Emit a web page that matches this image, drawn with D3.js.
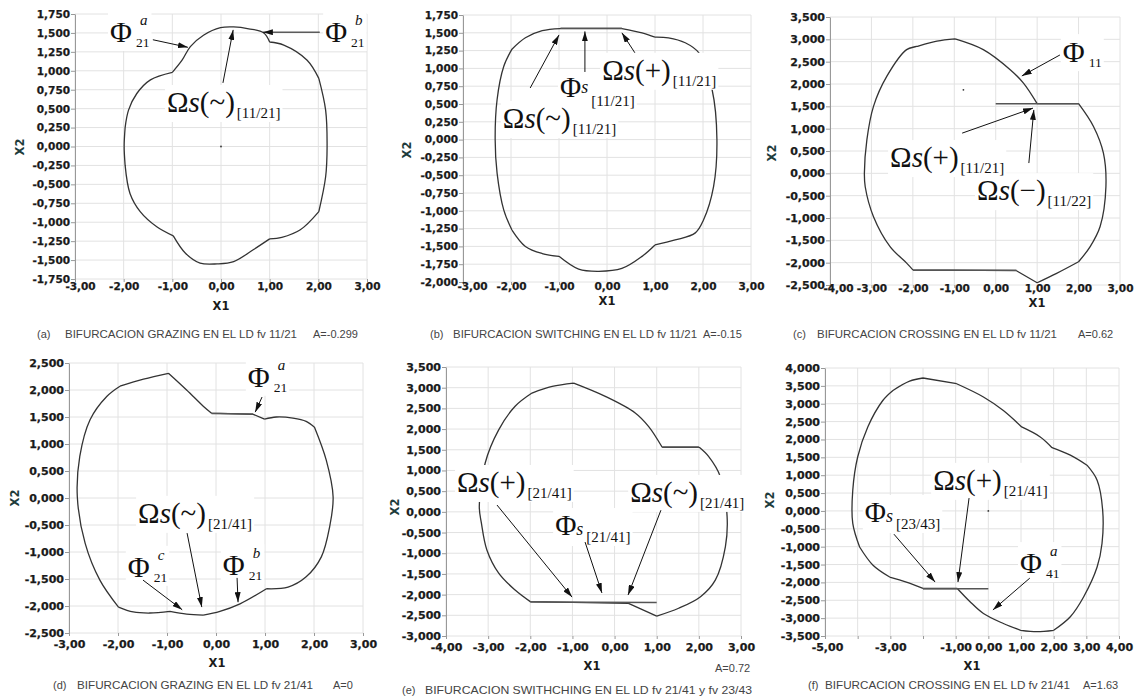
<!DOCTYPE html>
<html><head><meta charset="utf-8">
<script src="https://cdn.jsdelivr.net/npm/d3@7"></script>
<style>
body{margin:0;background:#fff}
svg{display:block}
</style></head><body>
<svg id="fig" width="1135" height="696"></svg>
<script>
// ---- orbits (x1, x2) ----
const orbitA = [[0.26,1.58],[0.57,1.555],[0.88,1.50],[1.0,1.38],[1.29,1.34],[1.77,1.14],[2.01,0.90],[2.15,0.48],[2.18,0],[2.15,-0.40],[2.01,-0.86],[1.63,-1.10],[1.25,-1.20],[1.0,-1.22],[0.67,-1.36],[0.26,-1.52],[-0.08,-1.55],[-0.43,-1.54],[-0.73,-1.41],[-0.98,-1.18],[-1.32,-1.06],[-1.66,-0.86],[-1.87,-0.62],[-1.97,-0.25],[-1.99,0],[-1.97,0.25],[-1.90,0.48],[-1.73,0.70],[-1.45,0.88],[-1.0,0.98],[-0.80,1.14],[-0.63,1.32],[-0.36,1.47],[-0.01,1.57]]
const orbitB = [[-0.97,1.56],[0.31,1.56],[0.73,1.50],[1.0,1.44],[1.28,1.43],[1.63,1.36],[1.91,1.22],[2.19,0.70],[2.29,0],[2.22,-0.66],[2.01,-1.13],[1.84,-1.31],[1.42,-1.41],[1.0,-1.48],[0.73,-1.64],[0.31,-1.81],[-0.17,-1.85],[-0.59,-1.82],[-1.0,-1.64],[-1.35,-1.60],[-1.70,-1.50],[-1.98,-1.27],[-2.15,-0.99],[-2.29,-0.47],[-2.33,0],[-2.29,0.56],[-2.15,1.03],[-1.98,1.27],[-1.70,1.43],[-1.35,1.53]]
const orbitC = [[-0.98,3.01],[-0.30,2.77],[0.35,2.32],[0.67,2.02],[1.0,1.56],[2.0,1.56],[2.36,1.05],[2.6,0.45],[2.66,-0.30],[2.52,-1.19],[2.28,-1.64],[2.0,-1.98],[1.47,-2.24],[1.0,-2.45],[0.5,-2.18],[-2.0,-2.16],[-2.15,-2.01],[-2.55,-1.64],[-2.95,-0.97],[-3.15,-0.30],[-3.17,0],[-3.11,0.75],[-2.95,1.50],[-2.63,2.17],[-2.15,2.77],[-1.91,2.84],[-1.42,2.96]]
const orbitD = [[-0.97,2.31],[-0.60,2.0],[-0.26,1.70],[-0.09,1.57],[0.76,1.55],[0.99,1.46],[1.23,1.50],[1.57,1.48],[1.84,1.42],[2.01,1.31],[2.25,0.70],[2.39,0.02],[2.32,-0.53],[2.15,-1.09],[1.84,-1.46],[1.47,-1.65],[1.03,-1.68],[0.49,-1.96],[0.08,-2.10],[-0.26,-2.17],[-0.60,-2.15],[-0.94,-2.10],[-1.35,-2.13],[-1.69,-2.11],[-1.99,-2.02],[-2.37,-1.52],[-2.67,-0.84],[-2.83,0.02],[-2.78,0.77],[-2.57,1.45],[-2.23,1.88],[-1.96,2.07],[-1.48,2.20]]
const orbitE = [[-0.97,3.11],[-0.22,2.79],[0.49,2.39],[0.81,2.06],[1.13,1.56],[2.01,1.56],[2.23,1.34],[2.51,0.85],[2.67,-0.11],[2.63,-0.84],[2.39,-1.65],[2.04,-2.05],[1.52,-2.33],[1.0,-2.52],[0.33,-2.21],[-2.0,-2.17],[-2.36,-1.89],[-2.75,-1.48],[-3.03,-0.92],[-3.16,-0.27],[-3.21,0.13],[-3.07,1.18],[-2.75,1.98],[-2.36,2.55],[-1.96,2.87],[-1.48,3.03]]
const orbitF = [[-2.0,3.72],[-0.97,3.56],[-0.15,3.19],[0.46,2.81],[1.02,2.35],[1.59,2.07],[1.95,1.77],[2.51,1.56],[3.02,1.28],[3.33,0.86],[3.50,0.02],[3.48,-0.91],[3.33,-1.57],[2.92,-2.40],[2.51,-2.96],[2.0,-3.34],[1.49,-3.38],[0.99,-3.34],[0.46,-3.15],[-0.15,-2.87],[-0.56,-2.54],[-0.95,-2.17],[-2.0,-2.17],[-2.51,-1.99],[-3.02,-1.85],[-3.53,-1.52],[-3.94,-1.01],[-4.15,-0.35],[-4.15,0.58],[-4.0,1.51],[-3.69,2.35],[-3.23,3.09],[-2.92,3.37],[-2.41,3.63]]

// indices of orbit points where the trajectory has a corner
const cornersA = [3,6,10,13,19,23,25,29]
const cornersB = [0,1,3,13,18,21,27]
const cornersC = [0,4,5,11,13,14,15]
const cornersD = [0,3,4,5,9,16,19,21,24,31]
const cornersE = [0,4,5,13,14,15,24]
const cornersF = [0,1,4,6,8,15,17,21,22,24,26,32]

// sliding segments on the switching lines
const slideA = []
const slideB = [[[-0.97,1.565],[0.31,1.565]]]
const slideC = [[[0.0,1.56],[2.0,1.56]], [[-2.0,-2.17],[0.5,-2.17]]]
const slideD = [[[-0.09,1.565],[0.76,1.555]]]
const slideE = [[[1.13,1.565],[2.0,1.565]], [[-2.0,-2.18],[1.0,-2.19]]]
const slideF = [[[-2.0,-2.18],[0.0,-2.18]]]

// isolated points
const dotsA = [[0,0]]
const dotsC = [[-0.78,1.87]]
const dotsF = [[0,0]]

// axes
const xDomainA = [-3,3], yDomainA = [-1.75,1.75]
const xDomainB = [-3,3], yDomainB = [-2,1.75]
const xDomainC = [-4,3], yDomainC = [-2.5,3.5]
const xDomainD = [-3,3], yDomainD = [-2.5,2.5]
const xDomainE = [-4,3], yDomainE = [-3,3.5]
const xDomainF = [-5,4], yDomainF = [-3.5,4]
const xTicksAB = [-3,-2,-1,0,1,2,3]
const xTicksCE = [-4,-3,-2,-1,0,1,2,3]
const xTicksF = [-5,-4,-3,-2,-1,0,1,2,3,4]
const xLabelsF = [-5,-3,-1,0,1,2,3,4]

// annotations (data coords)
const labelsA = [{kind:'phi',at:[-2.28,1.38],sup:'a',sub:'21'},{kind:'phi',at:[2.14,1.38],sup:'b',sub:'21'},{kind:'omega',at:[-1.11,0.456],sign:'~',sub:'[11/21]'}]
const arrowsA = [[[-1.40,1.41],[-0.68,1.31]],[[2.03,1.51],[0.86,1.51]],[[0.04,0.84],[0.25,1.54]]]
const labelsB = [{kind:'omega',at:[-2.17,0.163],sign:'~',sub:'[11/21]'},{kind:'phis',at:[-0.98,0.60],sub:'[11/21]',sDy:-4,subDy:9},{kind:'omega',at:[-0.10,0.84],sign:'+',sub:'[11/21]'}]
const arrowsB = [[[-1.60,0.725],[-1.0,1.47]],[[-0.46,0.95],[-0.46,1.52]],[[0.58,1.22],[0.31,1.50]]]
const labelsC = [{kind:'phi',at:[1.62,2.49],sup:'',sub:'11'},{kind:'omega',at:[-2.55,0.14],sign:'+',sub:'[11/21]'},{kind:'omega',at:[-0.45,-0.60],sign:'\u2212',sub:'[11/22]'}]
const arrowsC = [[[1.55,2.65],[0.63,2.18]],[[-0.81,0.90],[0.90,1.46]],[[0.80,0.23],[0.92,1.42]]]
const labelsD = [{kind:'phi',at:[0.65,2.06],sup:'a',sub:'21'},{kind:'omega',at:[-1.59,-0.46],sign:'~',sub:'[21/41]'},{kind:'phi',at:[-1.80,-1.46],sup:'c',sub:'21'},{kind:'phi',at:[0.14,-1.43],sup:'b',sub:'21'}]
const arrowsD = [[[0.94,1.87],[0.80,1.59]],[[-0.59,-0.65],[-0.29,-2.02]],[[-1.49,-1.52],[-0.69,-2.07]],[[0.43,-1.48],[0.45,-1.93]]]
const labelsE = [{kind:'omega',at:[-3.74,0.48],sign:'+',sub:'[21/41]'},{kind:'omega',at:[0.37,0.24],sign:'~',sub:'[21/41]'},{kind:'phis',at:[-1.41,-0.56],sub:'[21/41]',sDy:0,subDy:7}]
const arrowsE = [[[-2.79,0.165],[-1.01,-2.06]],[[1.10,0.04],[0.32,-2.01]],[[-0.70,-0.73],[-0.30,-1.96]]]
const labelsF = [{kind:'omega',at:[-1.69,0.59],sign:'+',sub:'[21/41]'},{kind:'phis',at:[-3.78,-0.31],sub:'[23/43]',sDy:0,subDy:7},{kind:'phi',at:[0.97,-1.74],sup:'a',sub:'41'}]
const arrowsF = [[[-0.59,0.36],[-0.93,-1.99]],[[-2.89,-0.65],[-1.63,-1.99]],[[1.27,-1.88],[0.14,-2.77]]]

// captions
const captionTags = ['(a)','(b)','(c)','(d)','(e)','(f)']
const captionTexts = ['BIFURCACION GRAZING EN EL LD fv 11/21','BIFURCACION SWITCHING EN EL LD fv 11/21','BIFURCACION CROSSING EN EL LD fv 11/21','BIFURCACION GRAZING EN EL LD fv 21/41','BIFURCACION SWITHCHING EN EL LD fv 21/41 y fv 23/43','BIFURCACION CROSSING EN EL LD fv 21/41']
const captionA = ['A=-0.299','A=-0.15','A=0.62','A=0','A=0.72','A=1.63']

// ---- layout ----
// xoff: top of x tick labels below the axis, shift0: nudge of the first x label
const panels = [
  {orbit:orbitA, corners:cornersA, slides:slideA, dots:dotsA, xd:xDomainA, yd:yDomainA, ystep:0.25, xt:xTicksAB, xl:xTicksAB, labels:labelsA, arrows:arrowsA,
   box:[75,367,14,279], fs:10.5, xfs:10.5, xoff:4, shift0:5, x1:[221,306], x2:[20,147], cap:{tag:37,tx:65,tw:232,ax:313,y:338,ay:338}},
  {orbit:orbitB, corners:cornersB, slides:slideB, dots:[], xd:xDomainB, yd:yDomainB, ystep:0.25, xt:xTicksAB, xl:xTicksAB, labels:labelsB, arrows:arrowsB,
   box:[463,751,15,282], fs:10.5, xfs:10.5, xoff:1, shift0:9, x1:[607,301], x2:[407,150], cap:{tag:430,tx:453,tw:244,ax:703,y:338,ay:338}},
  {orbit:orbitC, corners:cornersC, slides:slideC, dots:dotsC, xd:xDomainC, yd:yDomainC, ystep:0.5, xt:xTicksCE, xl:xTicksCE, labels:labelsC, arrows:arrowsC,
   box:[830,1120,17,285], fs:11, xfs:10.5, xoff:0, shift0:8, x1:[1037,303], x2:[772,153], cap:{tag:793,tx:817,tw:240,ax:1078,y:338,ay:338}},
  {orbit:orbitD, corners:cornersD, slides:slideD, dots:[], xd:xDomainD, yd:yDomainD, ystep:0.5, xt:xTicksAB, xl:xTicksAB, labels:labelsD, arrows:arrowsD,
   box:[69,363,363,633], fs:11, xfs:11, xoff:7, shift0:0, x1:[217,663], x2:[15,498], cap:{tag:53,tx:77,tw:236,ax:333,y:689,ay:689}},
  {orbit:orbitE, corners:cornersE, slides:slideE, dots:[], xd:xDomainE, yd:yDomainE, ystep:0.5, xt:xTicksCE, xl:xTicksCE, labels:labelsE, arrows:arrowsE,
   box:[446,741,367,636], fs:11, xfs:11, xoff:7, shift0:0, x1:[592,666], x2:[395,507], cap:{tag:402,tx:425,tw:327,ax:715,y:694,ay:672}},
  {orbit:orbitF, corners:cornersF, slides:slideF, dots:dotsF, xd:xDomainF, yd:yDomainF, ystep:0.5, xt:xTicksF, xl:xLabelsF, labels:labelsF, arrows:arrowsF,
   box:[825,1119,368,636], fs:11, xfs:11, xoff:7, shift0:2, x1:[972,666], x2:[770,500], cap:{tag:808,tx:825,tw:245,ax:1083,y:689,ay:689}}
]

const loc = d3.formatLocale({decimal:',', thousands:'.', grouping:[3], currency:['',''], minus:'-'})
const fy = loc.format('.3f'), fx = loc.format('.2f')
const serif = '"Liberation Serif", "DejaVu Serif", serif'
const sans = '"DejaVu Sans", Verdana, sans-serif'

const svg = d3.select('#fig')
svg.append('defs').append('marker')
  .attr('id','head').attr('viewBox','0 0 10 6').attr('refX',10).attr('refY',3)
  .attr('markerWidth',10).attr('markerHeight',6).attr('markerUnits','userSpaceOnUse').attr('orient','auto')
  .append('path').attr('d','M0,0L10,3L0,6Z').attr('fill','#111')

// split a closed orbit at its corners so that each arc is smoothed separately
function orbitPath(orbit, corners, line) {
  if (!corners.length) return line.curve(d3.curveCatmullRomClosed.alpha(0.5))(orbit)
  line.curve(d3.curveCatmullRom.alpha(0.5))
  const n = orbit.length
  let d = ''
  corners.forEach((c, k) => {
    const next = corners[(k + 1) % corners.length]
    const pts = [orbit[c]]
    let j = c
    do { j = (j + 1) % n; pts.push(orbit[j]) } while (j !== next)
    d += line(pts)
  })
  return d
}

function drawLabel(bg, fg, px, py, lab) {
  const lg = fg.append('g').attr('font-family', serif).attr('fill', '#111')
  if (lab.kind === 'phi') {
    const t = lg.append('text').attr('x',px).attr('y',py).attr('font-size',30).text('\u03a6')
    const w = t.node().getComputedTextLength()
    if (lab.sup) lg.append('text').attr('x',px+w+8).attr('y',py-17).attr('font-size',15).attr('font-style','italic').text(lab.sup)
    lg.append('text').attr('x',px+w+4).attr('y',py+5).attr('font-size',13.5).text(lab.sub)
  } else if (lab.kind === 'omega') {
    const t = lg.append('text').attr('x',px).attr('y',py).attr('font-size',29)
    t.append('tspan').text('\u03a9')
    t.append('tspan').attr('font-style','italic').text('s')
    t.append('tspan').text('(' + lab.sign + ')')
    t.append('tspan').attr('font-size',15).attr('dx',2).attr('dy',6).text(lab.sub)
  } else {
    const t = lg.append('text').attr('x',px).attr('y',py).attr('font-size',29)
    t.append('tspan').text('\u03a6')
    t.append('tspan').attr('font-style','italic').attr('font-size',18).attr('dy',lab.sDy).text('s')
    t.append('tspan').attr('font-size',15).attr('dx',3).attr('dy',lab.subDy - lab.sDy).text(lab.sub)
  }
  const bb = lg.node().getBBox()
  bg.append('rect')
    .attr('x', bb.x - 2).attr('y', bb.y - 1).attr('width', bb.width + 4).attr('height', bb.height + 2)
    .attr('fill', '#fff')
}

panels.forEach((p, i) => {
  const [bx0, bx1, by0, by1] = p.box
  const x = d3.scaleLinear().domain(p.xd).range([bx0, bx1])
  const y = d3.scaleLinear().domain(p.yd).range([by1, by0])
  const yTicks = d3.range(p.yd[0], p.yd[1] + 1e-9, p.ystep)
  const g = svg.append('g')

  // grid
  g.append('g').selectAll('line').data(p.xt).join('line')
    .attr('x1', d => x(d)).attr('x2', d => x(d)).attr('y1', by0).attr('y2', by1)
    .attr('stroke', '#e2e2e2')
  g.append('g').selectAll('line').data(yTicks).join('line')
    .attr('x1', bx0).attr('x2', bx1).attr('y1', d => y(d)).attr('y2', d => y(d))
    .attr('stroke', '#e2e2e2')

  // axes
  const ya = g.append('g').attr('transform', `translate(${bx0},0)`)
    .call(d3.axisLeft(y).tickValues(yTicks).tickFormat(fy).tickSize(4).tickPadding(1).tickSizeOuter(0))
  const xa = g.append('g').attr('transform', `translate(0,${by1})`)
    .call(d3.axisBottom(x).tickValues(p.xt).tickFormat(d => p.xl.includes(d) ? fx(d) : '').tickSize(3).tickSizeOuter(0))
  xa.select('.domain').remove()
  xa.selectAll('.tick text').attr('y', p.xoff).attr('x', (d, k) => k === 0 ? p.shift0 : 0)
  ;[[ya, p.fs], [xa, p.xfs]].forEach(([a, fs]) => {
    a.selectAll('.domain, .tick line').attr('stroke', '#999')
    a.selectAll('text').style('font-family', sans).style('font-weight', 'bold')
      .style('font-size', fs + 'px').attr('fill', '#1a1a1a')
      .attr('stroke', '#1a1a1a').attr('stroke-width', 0.25)
  })

  g.append('text').attr('x', p.x1[0]).attr('y', p.x1[1]).attr('text-anchor', 'middle').attr('dominant-baseline', 'middle')
    .style('font-family', sans).style('font-weight', 'bold').style('font-size', '11.5px').attr('fill', '#1a1a1a').text('X1')
  g.append('text').attr('transform', `translate(${p.x2[0]},${p.x2[1]}) rotate(-90)`).attr('text-anchor', 'middle')
    .attr('dominant-baseline', 'middle').style('font-family', sans).style('font-weight', 'bold')
    .style('font-size', '11.5px').attr('fill', '#1e3c3c').text('X2')

  // orbit
  const ln = d3.line().x(d => x(d[0])).y(d => y(d[1]))
  g.append('path').attr('d', orbitPath(p.orbit, p.corners, ln)).attr('fill', 'none')
    .attr('stroke', '#333').attr('stroke-width', 1.3).attr('stroke-linejoin', 'round')
  const seg = d3.line().x(d => x(d[0])).y(d => y(d[1]))
  g.selectAll('path.slide').data(p.slides).join('path').attr('class', 'slide')
    .attr('d', seg).attr('fill', 'none').attr('stroke', '#555').attr('stroke-width', 1.5)
  g.selectAll('circle.dot').data(p.dots).join('circle').attr('class', 'dot')
    .attr('cx', d => x(d[0])).attr('cy', d => y(d[1])).attr('r', 0.9).attr('fill', '#333')

  // annotations: white boxes below, texts above, then arrows
  const bg = g.append('g'), fg = g.append('g')
  p.labels.forEach(l => drawLabel(bg, fg, x(l.at[0]), y(l.at[1]), l))
  g.selectAll('line.arrow').data(p.arrows).join('line').attr('class', 'arrow')
    .attr('x1', d => x(d[0][0])).attr('y1', d => y(d[0][1]))
    .attr('x2', d => x(d[1][0])).attr('y2', d => y(d[1][1]))
    .attr('stroke', '#111').attr('stroke-width', 1).attr('marker-end', 'url(#head)')

  // caption
  const cg = g.append('g').attr('font-family', '"Liberation Sans", Arial, sans-serif').attr('font-size', 11).attr('fill', '#444')
  cg.append('text').attr('x', p.cap.tag).attr('y', p.cap.y).text(captionTags[i])
  cg.append('text').attr('x', p.cap.tx).attr('y', p.cap.y).attr('textLength', p.cap.tw).attr('lengthAdjust', 'spacingAndGlyphs').text(captionTexts[i])
  cg.append('text').attr('x', p.cap.ax).attr('y', p.cap.ay).text(captionA[i])
})
</script>
</body></html>
